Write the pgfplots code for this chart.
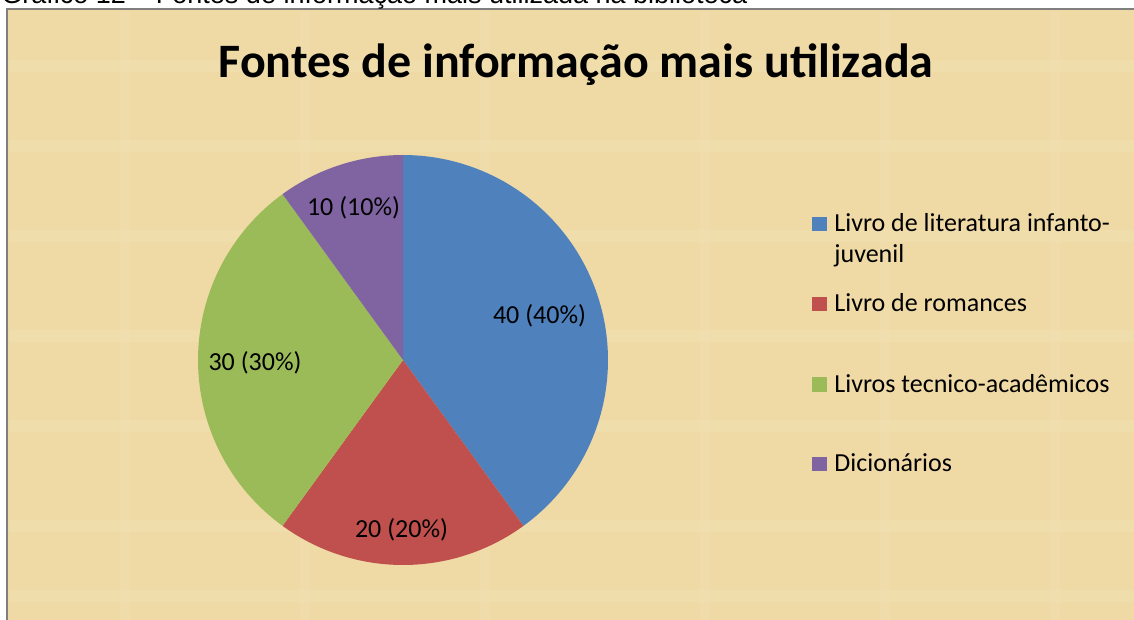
\documentclass[border=0pt]{standalone}
\usepackage{pgfplots}
\pgfplotsset{compat=1.18}
\usepackage{pgfplotstable}
\usepackage{fontspec}
\setmainfont{Carlito}
\newfontfamily\arialfont{Liberation Sans}

\definecolor{pieblue}{HTML}{4F81BD}
\definecolor{piered}{HTML}{C0504D}
\definecolor{piegreen}{HTML}{9BBB59}
\definecolor{piepurple}{HTML}{8064A2}
\definecolor{parch}{HTML}{EFDAA6}
\definecolor{parchlight}{HTML}{F4E3B8}
\definecolor{framegray}{HTML}{7F7F7F}

% values of the four slices, in legend order
\pgfplotstableread{
value
40
20
30
10
}\piedata

\pgfplotstablegetelem{0}{value}\of\piedata\edef\vA{\pgfplotsretval}
\pgfplotstablegetelem{1}{value}\of\piedata\edef\vB{\pgfplotsretval}
\pgfplotstablegetelem{2}{value}\of\piedata\edef\vC{\pgfplotsretval}
\pgfplotstablegetelem{3}{value}\of\piedata\edef\vD{\pgfplotsretval}
\pgfmathsetmacro\total{\vA+\vB+\vC+\vD}
% start at 12 o'clock, go clockwise
\pgfmathsetmacro\aA{90}
\pgfmathsetmacro\aB{\aA-360*\vA/\total}
\pgfmathsetmacro\aC{\aB-360*\vB/\total}
\pgfmathsetmacro\aD{\aC-360*\vC/\total}
\pgfmathsetmacro\aE{\aD-360*\vD/\total}

\newcommand\lbl{\fontsize{13}{15.6}\selectfont}

\begin{document}
\begin{tikzpicture}
\useasboundingbox (0,0) rectangle (567pt,310pt);
\clip (0,0) rectangle (567pt,310pt);
\begin{axis}[
    width=567pt, height=310pt, scale only axis,
    xmin=0, xmax=1134, ymin=0, ymax=620, y dir=reverse,
    hide axis, clip=false]

% chart area
\draw[fill=parch, draw=framegray, line width=1pt] (7,9) rectangle (1145,640);
\pgfplotsinvokeforeach{60,140,230,330,420,520,590}{
  \fill[parchlight, opacity=0.35] (9,#1) rectangle (1134,#1+12);}
\pgfplotsinvokeforeach{120,300,480,700,880,1050}{
  \fill[parchlight, opacity=0.3] (#1,11) rectangle (#1+10,620);}

% slices
\addplot[fill=pieblue, draw=none, domain=\aB:\aA, samples=90, variable=\t]
  ({403+205*cos(t)},{360-205*sin(t)}) -- (403,360) -- cycle;
\addplot[fill=piered, draw=none, domain=\aC:\aB, samples=60, variable=\t]
  ({403+205*cos(t)},{360-205*sin(t)}) -- (403,360) -- cycle;
\addplot[fill=piegreen, draw=none, domain=\aD:\aC, samples=80, variable=\t]
  ({403+205*cos(t)},{360-205*sin(t)}) -- (403,360) -- cycle;
\addplot[fill=piepurple, draw=none, domain=\aE:\aD, samples=40, variable=\t]
  ({403+205*cos(t)},{360-205*sin(t)}) -- (403,360) -- cycle;

% data labels
\node[anchor=base, font=\lbl, inner sep=0] at (539.5,323) {40 (40\%)};
\node[anchor=base, font=\lbl, inner sep=0] at (401.5,537.5) {20 (20\%)};
\node[anchor=base, font=\lbl, inner sep=0] at (255,370) {30 (30\%)};
\node[anchor=base, font=\lbl, inner sep=0] at (353.5,216) {10 (10\%)};

% title and caption
\node[anchor=base, inner sep=0, font=\fontsize{24}{28}\selectfont\bfseries] at (576,78)
  {Fontes de informação mais utilizada};
\node[anchor=base west, inner sep=0, font=\arialfont\fontsize{13.5}{16}\selectfont] at (1,4)
  {Gráfico 12 – Fontes de informação mais utilizada na biblioteca};

% legend
\fill[pieblue] (812,217) rectangle (827,231);
\fill[piered] (812,297) rectangle (827,311);
\fill[piegreen] (812,377) rectangle (827,392);
\fill[piepurple] (812,457) rectangle (827,471);
\node[anchor=base west, font=\lbl, inner sep=0] at (834,231.5) {Livro de literatura infanto-};
\node[anchor=base west, font=\lbl, inner sep=0] at (834,263) {juvenil};
\node[anchor=base west, font=\lbl, inner sep=0] at (834,311) {Livro de romances};
\node[anchor=base west, font=\lbl, inner sep=0] at (834,392) {Livros tecnico-acadêmicos};
\node[anchor=base west, font=\lbl, inner sep=0] at (834,471) {Dicionários};
\end{axis}
\end{tikzpicture}
\end{document}
